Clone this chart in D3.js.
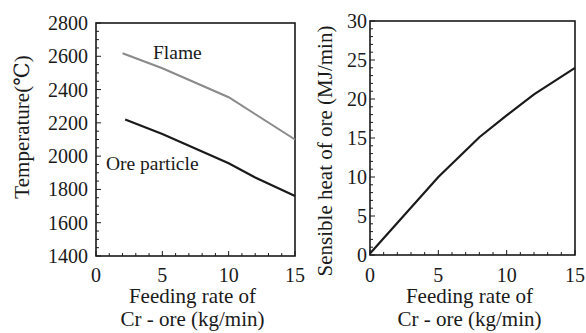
<!DOCTYPE html>
<html>
<head>
<meta charset="utf-8">
<script src="https://cdn.jsdelivr.net/npm/d3@7"></script>
<style>
  body { margin: 0; background: #fff; }
</style>
</head>
<body>
<svg id="chart" width="586" height="333"></svg>
<script>
// feed rate of Cr-ore (kg/min)
const flameX = [2, 5, 10, 15];
const flameT = [2618, 2528, 2354, 2100];
const oreX = [2.2, 5, 10, 12, 15];
const oreT = [2220, 2133, 1957, 1872, 1760];
const heatX = [0, 5, 8, 10, 12, 15];
const heatQ = [0.2, 10, 15.1, 17.9, 20.6, 24];
const leftTicks = [1400, 1600, 1800, 2000, 2200, 2400, 2600, 2800];
const rightTicks = [0, 5, 10, 15, 20, 25, 30];
const xTicks = [0, 5, 10, 15];

const svg = d3.select('#chart');
const ink = '#1a1a1a';
const serif = "'Liberation Serif', 'DejaVu Serif', 'Times New Roman', serif";

function label(sel, size) {
  return sel.style('font-family', serif).style('font-size', size + 'px').attr('fill', ink);
}

function panel(left, right, top, bottom, yDomain, yMajor, yMinorStep, labelGap) {
  const x = d3.scaleLinear().domain([0, 15]).range([left, right]);
  const y = d3.scaleLinear().domain(yDomain).range([bottom, top]);
  const g = svg.append('g');

  // minor ticks (inward)
  const xMinor = d3.range(0, 16, 1);
  g.selectAll('.xm').data(xMinor).enter().append('line')
    .attr('x1', d => x(d)).attr('x2', d => x(d))
    .attr('y1', bottom).attr('y2', d => bottom - (d % 5 === 0 ? 5 : 3))
    .attr('stroke', ink).attr('stroke-width', 1);
  const yMinor = d3.range(yDomain[0], yDomain[1] + 0.001, yMinorStep);
  g.selectAll('.ym').data(yMinor).enter().append('line')
    .attr('x1', left).attr('x2', d => left + (yMajor.includes(d) ? 5 : 3))
    .attr('y1', d => y(d)).attr('y2', d => y(d))
    .attr('stroke', ink).attr('stroke-width', 1);

  // frame
  g.append('rect')
    .attr('x', left).attr('y', top)
    .attr('width', right - left).attr('height', bottom - top)
    .attr('fill', 'none').attr('stroke', ink).attr('stroke-width', 1.6);

  // tick labels
  label(g.selectAll('.yl').data(yMajor).enter().append('text'), 20)
    .attr('x', left - labelGap).attr('y', d => y(d) + 7)
    .attr('text-anchor', 'end')
    .text(d => d);
  label(g.selectAll('.xl').data(xTicks).enter().append('text'), 20)
    .attr('x', d => x(d)).attr('y', 282)
    .attr('text-anchor', 'middle')
    .text(d => d);

  // x title
  const cx = (left + right) / 2;
  label(g.append('text'), 21).attr('x', cx - 3).attr('y', 303)
    .attr('text-anchor', 'middle').text('Feeding rate of');
  label(g.append('text'), 21).attr('x', cx - 3).attr('y', 326)
    .attr('text-anchor', 'middle').text('Cr - ore (kg/min)');

  return { x, y, g };
}

// left: temperatures
const L = panel(96, 295, 23, 256, [1400, 2800], leftTicks, 50, 8);
const line1 = d3.line().x(d => L.x(d[0])).y(d => L.y(d[1]));
L.g.append('path').datum(d3.zip(flameX, flameT)).attr('d', line1)
  .attr('fill', 'none').attr('stroke', '#8a8a8a').attr('stroke-width', 2);
L.g.append('path').datum(d3.zip(oreX, oreT)).attr('d', line1)
  .attr('fill', 'none').attr('stroke', ink).attr('stroke-width', 2.2);
label(L.g.append('text'), 19.5).attr('x', 153).attr('y', 59).text('Flame');
label(L.g.append('text'), 19.5).attr('x', 106).attr('y', 170).text('Ore particle');
label(svg.append('text'), 21)
  .attr('transform', 'translate(29,127) rotate(-90)')
  .attr('text-anchor', 'middle')
  .text('Temperature(℃)');

// right: sensible heat
const R = panel(370, 575, 21, 255, [0, 30], rightTicks, 1, 3);
const line2 = d3.line().x(d => R.x(d[0])).y(d => R.y(d[1]));
R.g.append('path').datum(d3.zip(heatX, heatQ)).attr('d', line2)
  .attr('fill', 'none').attr('stroke', ink).attr('stroke-width', 2.2);
label(svg.append('text'), 21)
  .attr('transform', 'translate(332,151) rotate(-90)')
  .attr('text-anchor', 'middle')
  .text('Sensible heat of ore (MJ/min)');
</script>
</body>
</html>
